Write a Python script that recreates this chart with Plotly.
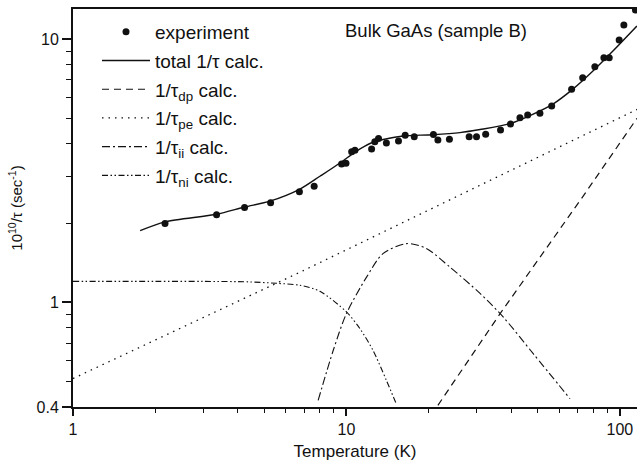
import numpy as np
import plotly.graph_objects as go

# ---------------- data ----------------
exp_T = [2.17, 3.35, 4.24, 5.28, 6.73, 7.62, 9.6, 9.96, 10.45, 10.74, 12.36, 12.7,
         13.1, 14.0, 15.5, 16.4, 17.7, 20.8, 21.6, 23.8, 28.1, 29.9, 32.3, 36.6,
         39.8, 43.1, 46.0, 51.0, 56.3, 66.6, 73.1, 81.0, 87.4, 91.4, 99.4, 103.4, 114.0]
exp_v = [1.99, 2.15, 2.29, 2.39, 2.63, 2.76, 3.35, 3.37, 3.73, 3.78, 3.82, 4.07,
         4.19, 4.03, 4.10, 4.31, 4.25, 4.34, 4.13, 4.16, 4.25, 4.25, 4.35, 4.51,
         4.75, 5.02, 5.14, 5.22, 5.56, 6.44, 7.13, 7.85, 8.49, 8.49, 9.91, 11.3, 12.9]

tot_T = [1.76, 2.17, 3.35, 4.24, 5.25, 6.76, 8.0, 9.47, 10.74, 11.68, 12.7, 14.06,
         16.09, 20.7, 26.0, 30.8, 39.6, 46.9, 56.9, 67.3, 79.7, 94.3, 115.4]
tot_v = [1.87, 2.02, 2.16, 2.30, 2.42, 2.69, 3.01, 3.38, 3.72, 3.92, 4.08, 4.18,
         4.28, 4.33, 4.41, 4.53, 4.77, 5.12, 5.66, 6.45, 7.56, 9.0, 11.2]

dp_T = [21.6, 36.5, 73.2, 111.9, 115.5]
dp_v = [0.406, 0.906, 2.52, 4.78, 5.0]

pe_T = [1.0, 6.76, 115.5]
pe_v = [0.513, 1.30, 5.40]

ii_T = [7.88, 8.95, 10.0, 11.86, 13.6, 16.6, 19.6, 23.9, 30.8, 37.4, 48.2, 65.7]
ii_v = [0.424, 0.657, 0.906, 1.248, 1.53, 1.67, 1.60, 1.36, 1.08, 0.88, 0.638, 0.43]

ni_T = [1.0, 2.0, 3.0, 4.4, 5.55, 6.76, 8.0, 10.0, 11.2, 12.5, 14.0, 15.2]
ni_v = [1.20, 1.20, 1.20, 1.195, 1.18, 1.16, 1.10, 0.919, 0.794, 0.657, 0.505, 0.412]

x_major = [1, 10, 100]
x_major_text = ["1", "10", "100"]
x_minor = [2, 3, 4, 5, 6, 7, 8, 9, 20, 30, 40, 50, 60, 70, 80, 90]
y_major = [0.4, 1, 10]
y_major_text = ["0.4", "1", "10"]
y_minor = [0.5, 0.6, 0.7, 0.8, 0.9, 2, 3, 4, 5, 6, 7, 8, 9]

FONT = "Liberation Sans, Arial, Helvetica, sans-serif"
BLACK = "#111111"

fig = go.Figure()
fig.add_trace(go.Scatter(x=exp_T, y=exp_v, mode="markers", name="experiment",
                         legendgroup="g1",
                         marker=dict(color=BLACK, size=7)))
fig.add_trace(go.Scatter(x=tot_T, y=tot_v, mode="lines", name="total 1/τ calc.",
                         legendgroup="g2",
                         line=dict(color=BLACK, width=1.4, shape="spline", smoothing=0.8)))
fig.add_trace(go.Scatter(x=dp_T, y=dp_v, mode="lines", name="1/τ<sub>dp</sub> calc.",
                         legendgroup="g3",
                         line=dict(color=BLACK, width=1.2, dash="7px,5px")))
fig.add_trace(go.Scatter(x=pe_T, y=pe_v, mode="lines", name="1/τ<sub>pe</sub> calc.",
                         legendgroup="g4",
                         line=dict(color=BLACK, width=1.3, dash="1.5px,5px")))
fig.add_trace(go.Scatter(x=ii_T, y=ii_v, mode="lines", name="1/τ<sub>ii</sub> calc.",
                         legendgroup="g5",
                         line=dict(color=BLACK, width=1.1, dash="8px,3px,2px,3px",
                                   shape="spline", smoothing=0.8)))
fig.add_trace(go.Scatter(x=ni_T, y=ni_v, mode="lines", name="1/τ<sub>ni</sub> calc.",
                         legendgroup="g6",
                         line=dict(color=BLACK, width=1.1,
                                   dash="6px,2.5px,1.5px,2.5px,1.5px,2.5px",
                                   shape="spline", smoothing=0.8)))

fig.add_annotation(text="Bulk GaAs (sample B)", xref="paper", yref="paper",
                   x=(436 - 73) / 564, y=1 - (30 - 9) / 397.7,
                   xanchor="center", yanchor="middle", showarrow=False,
                   font=dict(family=FONT, size=18.5, color=BLACK))

fig.update_layout(
    width=637, height=466,
    margin=dict(l=73, r=0, t=9, b=59),
    plot_bgcolor="white", paper_bgcolor="white",
    font=dict(family=FONT, color=BLACK),
    showlegend=True,
    legend=dict(x=(97 - 73) / 564, y=0.99, xanchor="left", yanchor="top",
                bgcolor="rgba(0,0,0,0)", font=dict(family=FONT, size=19, color=BLACK),
                tracegroupgap=1, itemwidth=48),
)
fig.update_xaxes(
    type="log", range=[0, np.log10(115.5)],
    showline=True, linewidth=2, linecolor=BLACK, mirror=True,
    showgrid=False, zeroline=False,
    ticks="outside", ticklen=7, tickwidth=1.5, tickcolor=BLACK,
    tickmode="array", tickvals=x_major, ticktext=x_major_text,
    tickfont=dict(family=FONT, size=16, color=BLACK),
    minor=dict(tickmode="array", tickvals=x_minor, ticks="outside", ticklen=4,
               tickwidth=1.2, tickcolor=BLACK, showgrid=False),
    title=dict(text="Temperature (K)", font=dict(family=FONT, size=17, color=BLACK),
               standoff=8),
)
fig.update_yaxes(
    type="log", range=[np.log10(0.4), np.log10(13.0)],
    showline=True, linewidth=2, linecolor=BLACK,
    showgrid=False, zeroline=False,
    ticks="outside", ticklen=9, tickwidth=1.5, tickcolor=BLACK,
    tickmode="array", tickvals=y_major, ticktext=y_major_text,
    tickfont=dict(family=FONT, size=16, color=BLACK),
    minor=dict(tickmode="array", tickvals=y_minor, ticks="outside", ticklen=5,
               tickwidth=1.2, tickcolor=BLACK, showgrid=False),
    title=dict(text="10<sup>10</sup>/τ (sec<sup>-1</sup>)",
               font=dict(family=FONT, size=15, color=BLACK), standoff=10),
)

fig.write_html("out.html")
